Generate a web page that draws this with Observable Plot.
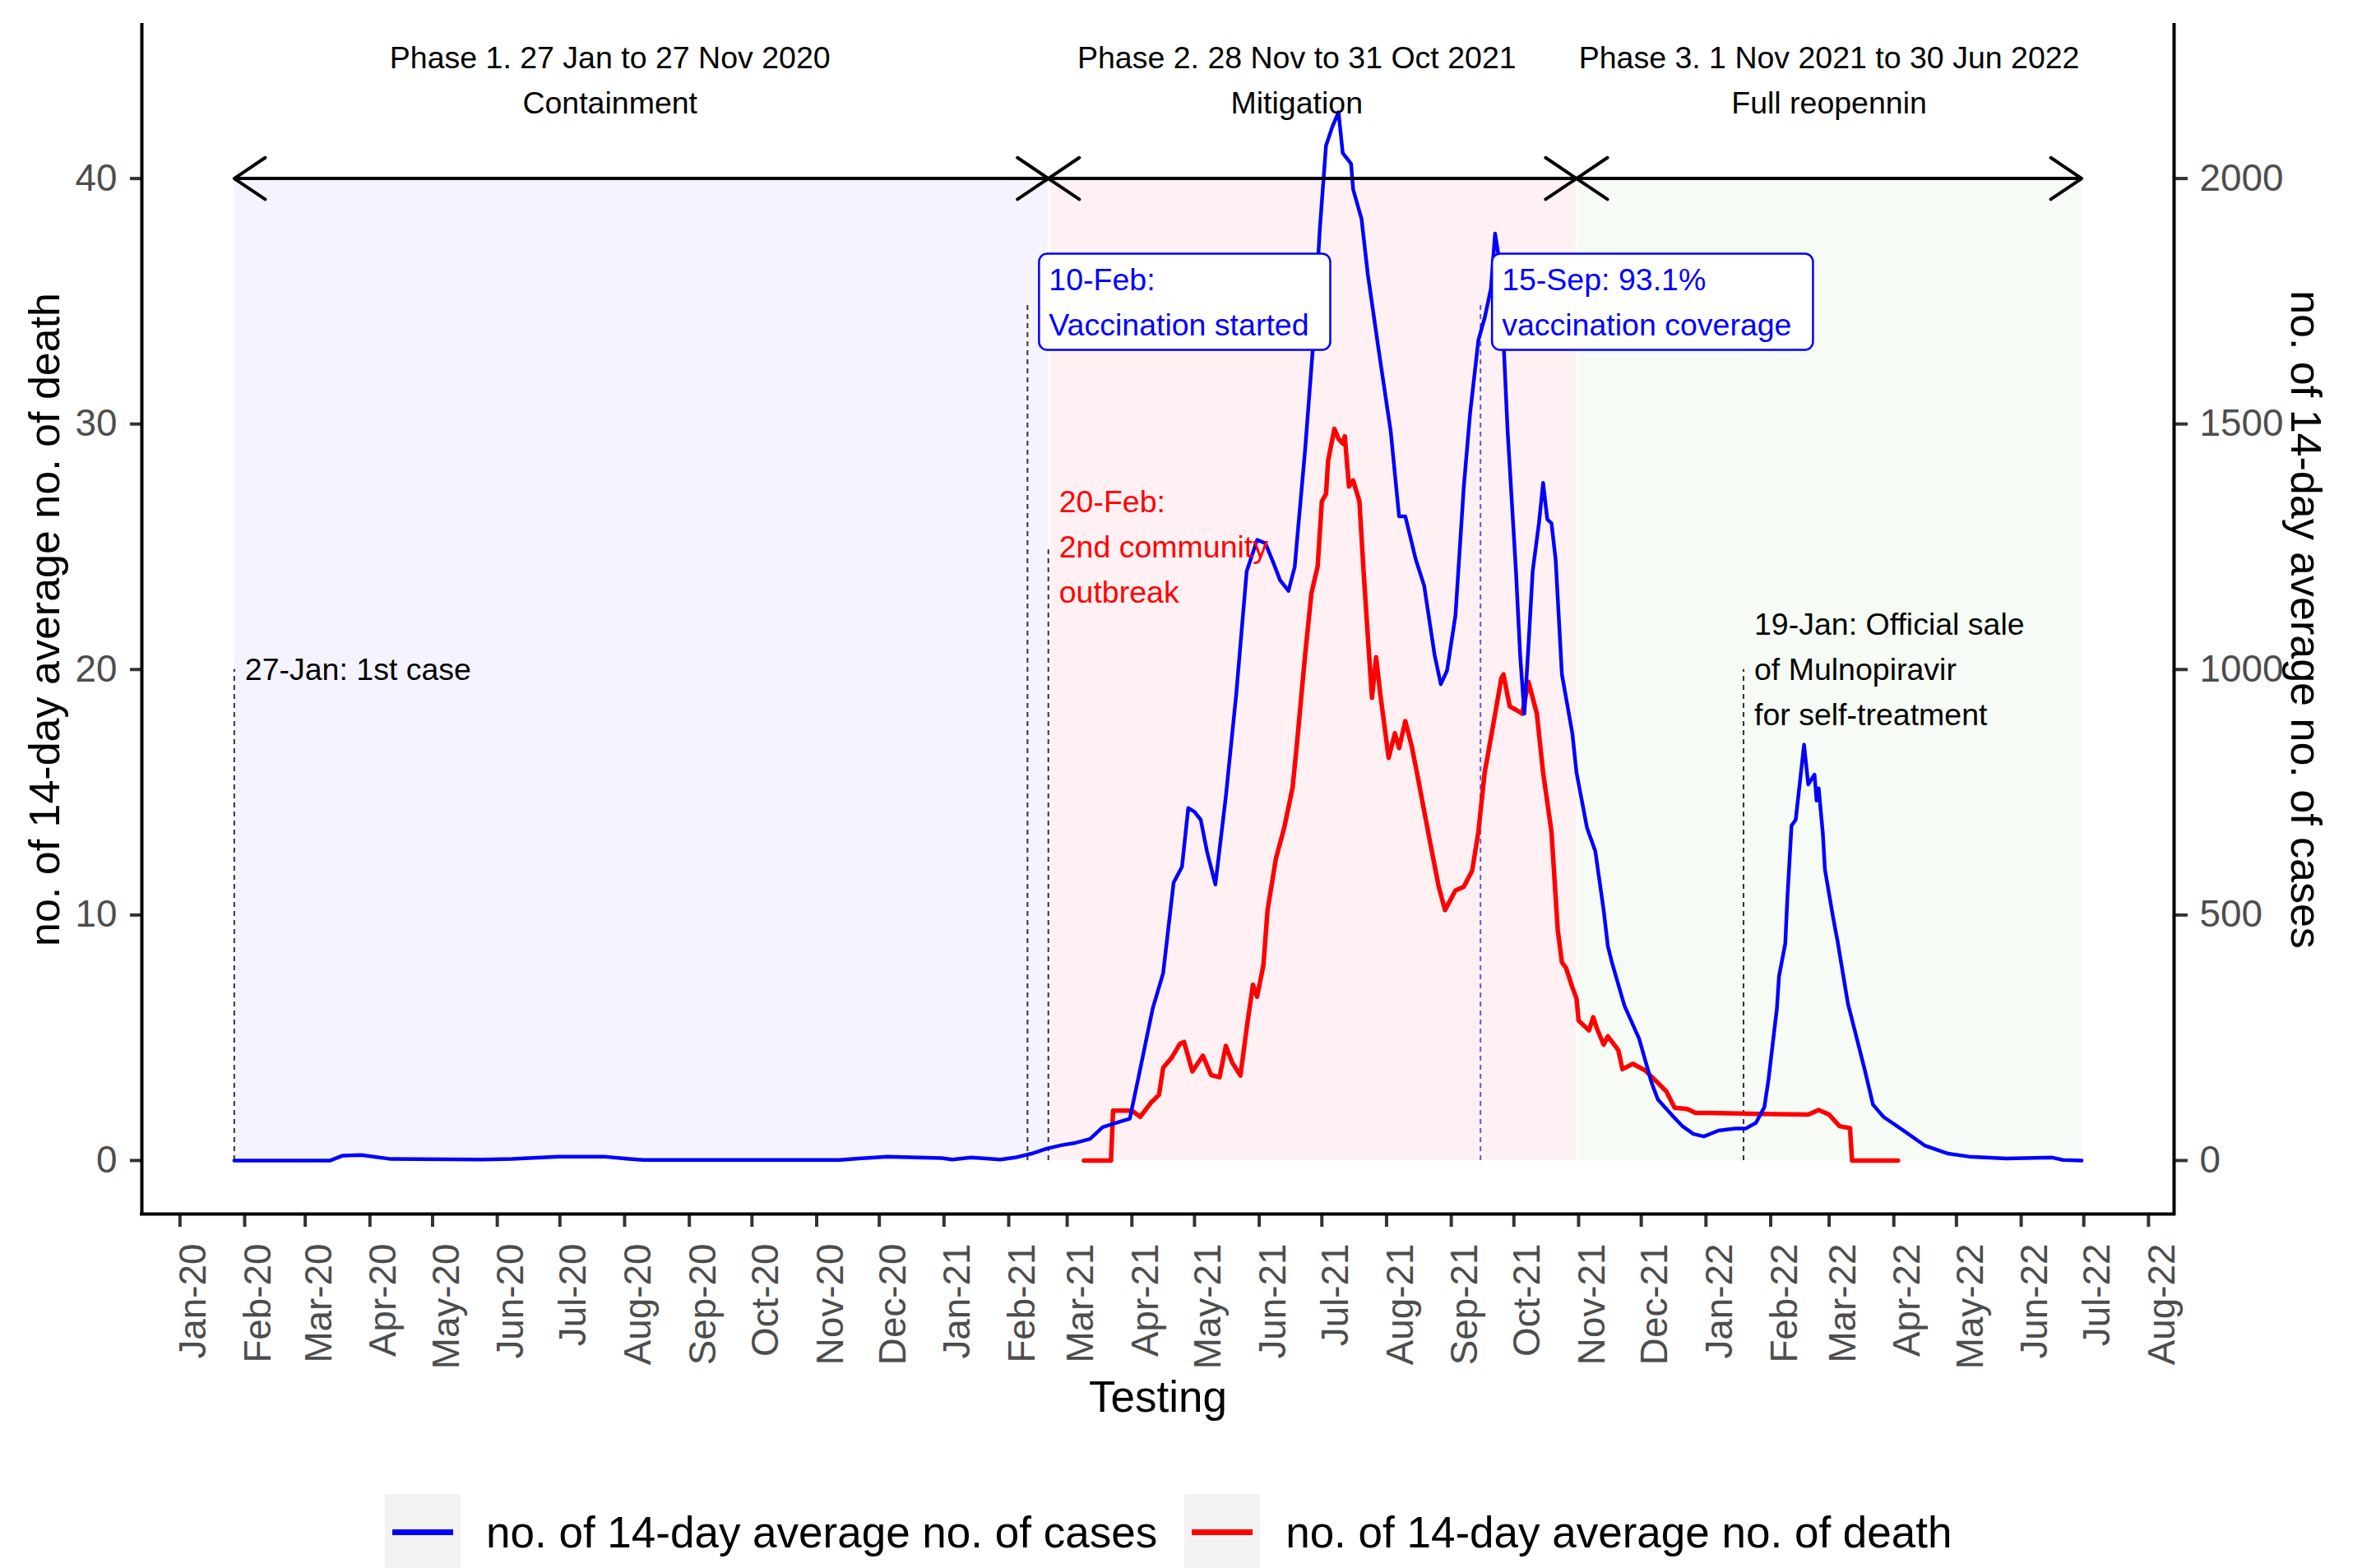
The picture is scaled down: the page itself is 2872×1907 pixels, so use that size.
<!DOCTYPE html>
<html><head><meta charset="utf-8">
<script src="https://cdn.jsdelivr.net/npm/d3@7"></script>
<script src="https://cdn.jsdelivr.net/npm/@observablehq/plot@0.6"></script>
<style>
body{margin:0;background:#fff;width:2872px;height:1907px;overflow:hidden;font-family:"Liberation Sans",Arial,sans-serif;}
#legend{display:flex;align-items:center;margin-left:468px;margin-top:57px;font-size:53px;color:#000;}
#legend .key{width:92px;height:92px;background:#F2F2F2;display:flex;align-items:center;justify-content:center;flex:none;}
#legend .key div{width:74px;height:7px;}
#legend span{margin-left:31px;margin-right:33px;white-space:nowrap;}
</style></head><body><div id="chart"></div><div id="legend"></div>
<script>
// ---- data ----
const caseDates = ["2020-01-27","2020-03-13","2020-03-19","2020-03-28","2020-04-11","2020-05-25","2020-06-08","2020-06-30","2020-07-22","2020-08-01","2020-08-10","2020-11-12","2020-11-21","2020-12-05","2020-12-31","2021-01-05","2021-01-14","2021-01-28","2021-02-04","2021-02-12","2021-02-19","2021-02-26","2021-03-05","2021-03-12","2021-03-18","2021-03-27","2021-03-31","2021-04-04","2021-04-11","2021-04-16","2021-04-21","2021-04-25","2021-04-28","2021-05-01","2021-05-04","2021-05-07","2021-05-11","2021-05-16","2021-05-21","2021-05-26","2021-05-31","2021-06-04","2021-06-08","2021-06-11","2021-06-15","2021-06-18","2021-06-23","2021-06-27","2021-06-30","2021-07-03","2021-07-06","2021-07-09","2021-07-11","2021-07-15","2021-07-16","2021-07-20","2021-07-23","2021-07-28","2021-08-03","2021-08-07","2021-08-10","2021-08-15","2021-08-19","2021-08-24","2021-08-27","2021-08-30","2021-09-03","2021-09-07","2021-09-10","2021-09-14","2021-09-17","2021-09-20","2021-09-22","2021-09-25","2021-09-26","2021-09-28","2021-10-02","2021-10-04","2021-10-06","2021-10-08","2021-10-10","2021-10-13","2021-10-15","2021-10-17","2021-10-19","2021-10-21","2021-10-24","2021-10-29","2021-10-31","2021-11-05","2021-11-09","2021-11-13","2021-11-15","2021-11-17","2021-11-23","2021-11-30","2021-12-06","2021-12-09","2021-12-16","2021-12-21","2021-12-26","2021-12-31","2022-01-07","2022-01-15","2022-01-20","2022-01-25","2022-01-29","2022-01-31","2022-02-04","2022-02-05","2022-02-08","2022-02-09","2022-02-11","2022-02-13","2022-02-17","2022-02-19","2022-02-22","2022-02-23","2022-02-24","2022-02-26","2022-02-27","2022-03-03","2022-03-05","2022-03-10","2022-03-18","2022-03-22","2022-03-27","2022-04-05","2022-04-16","2022-04-27","2022-05-07","2022-05-25","2022-06-16","2022-06-21","2022-06-30"];
const caseValues = [0,0,10,11,3,2,3,8,8,4,1,1,4,8,5,2,6,2,6,14,24,31,36,44,68,80,85,166,310,382,566,598,718,710,694,629,562,741,950,1200,1264,1257,1215,1182,1160,1209,1448,1671,1895,2067,2105,2135,2052,2030,1978,1918,1806,1657,1485,1312,1312,1224,1171,1030,970,998,1110,1372,1521,1671,1716,1776,1888,1806,1671,1485,1200,1029,910,1050,1200,1298,1380,1306,1298,1224,990,870,790,678,630,510,437,403,315,248,158,124,91,69,54,49,61,65,65,77,109,166,310,375,442,534,682,694,847,766,786,733,758,666,593,493,448,320,186,114,89,63,30,14,8,4,6,1,0];

const deathDates = ["2021-03-09","2021-03-22","2021-03-23","2021-04-01","2021-04-05","2021-04-10","2021-04-14","2021-04-16","2021-04-20","2021-04-24","2021-04-26","2021-04-30","2021-05-05","2021-05-09","2021-05-13","2021-05-16","2021-05-19","2021-05-23","2021-05-26","2021-05-29","2021-05-31","2021-06-03","2021-06-05","2021-06-09","2021-06-13","2021-06-17","2021-06-19","2021-06-23","2021-06-26","2021-06-29","2021-07-01","2021-07-03","2021-07-04","2021-07-07","2021-07-09","2021-07-11","2021-07-12","2021-07-14","2021-07-16","2021-07-19","2021-07-21","2021-07-23","2021-07-25","2021-07-27","2021-07-29","2021-08-02","2021-08-05","2021-08-07","2021-08-10","2021-08-13","2021-08-16","2021-08-18","2021-08-22","2021-08-26","2021-08-29","2021-09-03","2021-09-07","2021-09-11","2021-09-14","2021-09-17","2021-09-21","2021-09-25","2021-09-26","2021-09-29","2021-10-02","2021-10-05","2021-10-08","2021-10-12","2021-10-15","2021-10-19","2021-10-22","2021-10-24","2021-10-26","2021-10-29","2021-10-31","2021-11-01","2021-11-06","2021-11-08","2021-11-10","2021-11-13","2021-11-15","2021-11-20","2021-11-22","2021-11-27","2021-12-03","2021-12-09","2021-12-13","2021-12-17","2021-12-23","2021-12-27","2022-01-02","2022-01-27","2022-02-19","2022-02-24","2022-03-01","2022-03-06","2022-03-11","2022-03-12","2022-04-03"];
const deathValues = [0,0,2.03,2.03,1.78,2.34,2.68,3.78,4.18,4.75,4.83,3.63,4.27,3.48,3.39,4.67,4.0,3.46,5.39,7.16,6.67,7.95,10.2,12.3,13.56,15.2,16.9,20.6,23.1,24.2,26.85,27.15,28.5,29.8,29.4,29.2,29.5,27.45,27.7,26.85,24.0,21.4,18.85,20.5,19.0,16.4,17.4,16.8,17.9,16.9,15.6,14.7,12.9,11.15,10.2,11.0,11.15,11.8,13.4,15.8,17.7,19.65,19.8,18.5,18.36,18.2,19.5,18.2,15.8,13.4,9.4,8.07,7.84,7.06,6.6,5.7,5.3,5.84,5.33,4.72,5.06,4.5,3.72,3.94,3.66,3.16,2.82,2.15,2.1,1.94,1.94,1.9,1.87,2.06,1.87,1.4,1.32,0,0];

const ratio = 50; // right axis (cases) = left axis (deaths) * 50
const leftTicks = [0, 10, 20, 30, 40];
const rightTicks = [0, 500, 1000, 1500, 2000];

const phaseLabels = ["Phase 1. 27 Jan to 27 Nov 2020\nContainment", "Phase 2. 28 Nov to 31 Oct 2021\nMitigation", "Phase 3. 1 Nov 2021 to 30 Jun 2022\nFull reopennin"];
const phaseLabelDates = ["2020-07-25", "2021-06-19", "2022-03-01"];
const phaseLabelY = 44;
const arrowStarts = ["2020-01-27", "2021-02-20", "2021-10-31"];
const arrowEnds = ["2021-02-20", "2021-10-31", "2022-06-30"];
const arrowY = 40;
const shadeStarts = ["2020-01-27", "2021-02-21", "2021-11-01"];
const shadeEnds = ["2021-02-20", "2021-10-31", "2022-06-30"];
const shadeColors = ["#F5F3FF", "#FFF1F3", "#F6FCF5"];
const shadeBottom = 0, shadeTop = 40;

const eventDates = ["2020-01-27", "2021-02-10", "2021-02-20", "2021-09-15", "2022-01-19"];
const eventTops = [20, 35, 25, 35, 20];
const eventLabels = ["27-Jan: 1st case", "10-Feb:\nVaccination started", "20-Feb:\n2nd community\noutbreak", "15-Sep: 93.1%\nvaccination coverage", "19-Jan: Official sale\nof Mulnopiravir\nfor self-treatment"];
const eventTextColors = ["#000000", "#0000FF", "#FF0000", "#0000FF", "#000000"];
const eventBoxed = [false, true, false, true, false];
const eventLineColors = ["#333333", "#333333", "#333333", "#5A5AE0", "#333333"];

const legendLabels = ["no. of 14-day average no. of cases", "no. of 14-day average no. of death"];
const legendColors = ["#0000FF", "#FF0000"];

// ---- build ----
const pd = d3.utcParse("%Y-%m-%d");
const cases = caseDates.map((d, i) => ({date: pd(d), value: caseValues[i] / ratio}));
const deaths = deathDates.map((d, i) => ({date: pd(d), value: deathValues[i]}));
const shades = shadeStarts.map((d, i) => ({x1: pd(d), x2: pd(shadeEnds[i]), y1: shadeBottom, y2: shadeTop, fill: shadeColors[i]}));
const arrows = [];
arrowStarts.forEach((s, i) => {
  const a = pd(s), b = pd(arrowEnds[i]);
  const mid = new Date((+a + +b) / 2);
  arrows.push({x1: mid, x2: a, y: arrowY}, {x1: mid, x2: b, y: arrowY});
});
const phaseText = phaseLabels.map((t, i) => ({x: pd(phaseLabelDates[i]), y: phaseLabelY, text: t}));
const events = eventDates.map((d, i) => ({x: pd(d), top: eventTops[i], text: eventLabels[i], color: eventTextColors[i], line: eventLineColors[i], boxed: eventBoxed[i]}));

const dataStart = pd(caseDates[0]), dataEnd = pd(caseDates[caseDates.length - 1]);
const pad = (dataEnd - dataStart) * 0.05;
const xDomain = [new Date(+dataStart - pad), new Date(+dataEnd + pad)];
const yDomain = [-2.18, 46.25];

const FONT = '"Liberation Sans", Arial, sans-serif';
const axisStyle = {fontSize: 45.8, fill: "#4D4D4D", stroke: "#333333", strokeWidth: 4, label: null};
const chart = Plot.plot({
  width: 2872, height: 1760,
  marginLeft: 172, marginRight: 229, marginTop: 30, marginBottom: 284,
  style: {fontFamily: FONT, fontSize: "37.5px", background: "white", overflow: "visible"},
  color: {type: "identity"},
  x: {type: "utc", domain: xDomain},
  y: {domain: yDomain},
  marks: [
    Plot.rect(shades, {x1: "x1", x2: "x2", y1: "y1", y2: "y2", fill: "fill"}),
    Plot.ruleX(events, {x: "x", y1: shadeBottom, y2: "top", stroke: "line", strokeWidth: 2, strokeDasharray: "6,5"}),
    Plot.line(deaths, {x: "date", y: "value", stroke: "#FF0000", strokeWidth: 5.5, curve: "linear"}),
    Plot.line(cases, {x: "date", y: "value", stroke: "#0000FF", strokeWidth: 4.5, curve: "linear"}),
    Plot.arrow(arrows, {x1: "x1", x2: "x2", y1: "y", y2: "y", stroke: "black", strokeWidth: 4, headAngle: 68, headLength: 17}),
    Plot.text(phaseText, {x: "x", y: "y", text: "text", fill: "black", fontSize: 37.5, lineHeight: 1.467, textAnchor: "middle", dy: -5}),
    Plot.text(events.filter(e => !e.boxed), {x: "x", y: "top", text: "text", fill: "color", fontSize: 37.5, lineHeight: 1.467, textAnchor: "start", dx: 13, dy: -5}),
    Plot.text(events.filter(e => e.boxed), {x: "x", y: "top", text: "text", fill: "#0000FE", fontSize: 37.5, lineHeight: 1.467, textAnchor: "start", dx: 26, dy: -4}),
    // axes: tick marks, then labels shifted like the original
    Plot.axisX({...axisStyle, ticks: "month", tickFormat: () => "", tickSize: 16}),
    Plot.axisX({...axisStyle, ticks: "month", tickFormat: d3.utcFormat("%b-%y"), tickRotate: -90, textAnchor: "end", tickSize: 0, tickPadding: 36, dx: 17}),
    Plot.axisY({...axisStyle, anchor: "left", ticks: leftTicks, tickSize: 14, tickPadding: 16}),
    Plot.axisY({...axisStyle, anchor: "right", ticks: rightTicks.map(v => v / ratio), tickFormat: d => String(Math.round(d * ratio)), tickSize: 16, tickPadding: 15}),
    Plot.ruleX(xDomain, {stroke: "black", strokeWidth: 4, strokeLinecap: "square"}),
    Plot.ruleY([yDomain[0]], {stroke: "black", strokeWidth: 4, strokeLinecap: "square"}),
    Plot.text([legendLabels[1]], {frameAnchor: "left", rotate: -90, dx: -117, textAnchor: "middle", lineAnchor: "middle", fontSize: 52, fill: "black"}),
    Plot.text([legendLabels[0]], {frameAnchor: "right", rotate: 90, dx: 159, textAnchor: "middle", lineAnchor: "middle", fontSize: 52, fill: "black"}),
    Plot.text(["Testing"], {frameAnchor: "bottom", dy: 224, textAnchor: "middle", lineAnchor: "middle", fontSize: 53, fill: "black"})
  ]
});
document.getElementById("chart").appendChild(chart);

// label boxes (geom_label style) sized from the rendered text
chart.querySelectorAll('g[aria-label="text"][fill="#0000FE"] > text').forEach(t => {
  const bb = t.getBBox();
  const r = document.createElementNS("http://www.w3.org/2000/svg", "rect");
  r.setAttribute("x", bb.x - 12);
  r.setAttribute("y", bb.y - 10);
  r.setAttribute("width", bb.width + 12 + 26);
  r.setAttribute("height", bb.height + 20);
  r.setAttribute("rx", 10);
  r.setAttribute("fill", "white");
  r.setAttribute("stroke", "#0000FF");
  r.setAttribute("stroke-width", 2.5);
  if (t.getAttribute("transform")) r.setAttribute("transform", t.getAttribute("transform"));
  t.parentNode.insertBefore(r, t);
});

// legend
const lg = document.getElementById("legend");
legendLabels.forEach((l, i) => {
  const k = document.createElement("div"); k.className = "key";
  const ln = document.createElement("div"); ln.style.background = legendColors[i]; k.appendChild(ln);
  const s = document.createElement("span"); s.textContent = l;
  lg.appendChild(k); lg.appendChild(s);
});
</script></body></html>
